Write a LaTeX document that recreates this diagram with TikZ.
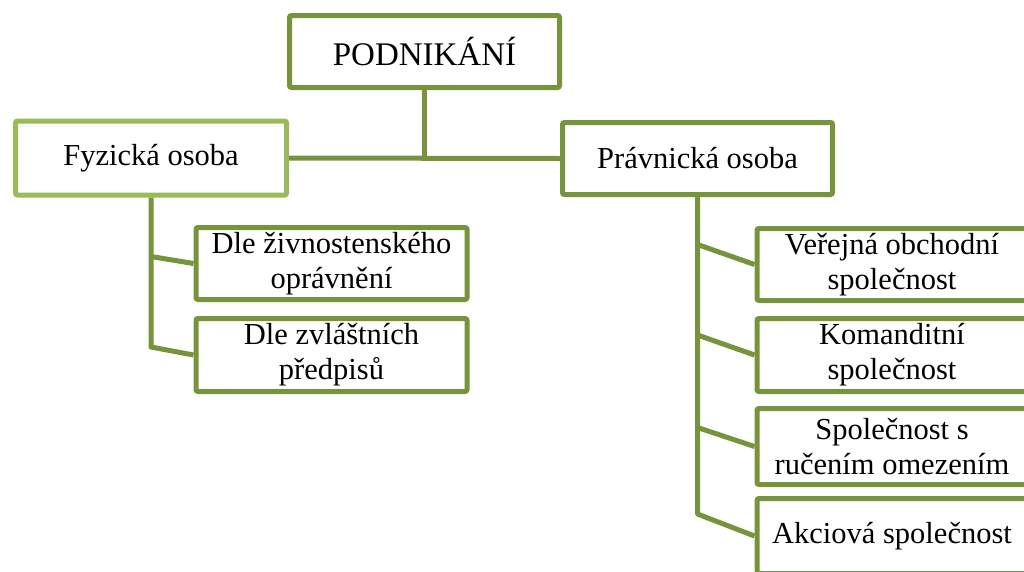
\documentclass[tikz,border=0pt]{standalone}
\usepackage{fontspec}
\setmainfont{Liberation Serif}
\usetikzlibrary{calc}
\definecolor{dg}{HTML}{77933C}
\definecolor{lg}{HTML}{9BBB59}
\begin{document}
\begin{tikzpicture}[x=1pt,y=-1pt,
  box/.style={draw=dg, line width=5pt, fill=white, rounded corners=2pt,
    minimum width=270pt, minimum height=72pt, inner sep=0pt, align=center,
    text=black, font=\fontsize{30.5}{35}\selectfont},
  conn/.style={draw=dg, line width=5pt, line join=round}]
\path[use as bounding box, clip] (0,0) rectangle (1024,571);
\fill[white] (0,0) rectangle (1024,571);
% nodes
\node[box, font=\fontsize{33}{36}\selectfont] (top) at (424.5,51.5) {PODNIK\'AN\'I};
\node[box, draw=lg, minimum width=271pt, minimum height=74pt] (fyz) at (151,158) {Fyzická osoba};
\node[box] (prav) at (697.5,158.5) {Právnická osoba};
\node[box, minimum width=271pt] (d1) at (331.5,263.5) {Dle živnostenského\\oprávnění};
\node[box, minimum width=271pt, minimum height=73pt] (d2) at (331.5,355) {Dle zvláštních\\předpisů};
\node[box] (r1) at (892,264.5) {Veřejná obchodní\\společnost};
\node[box, minimum height=73pt] (r2) at (892,355) {Komanditní\\společnost};
\node[box, minimum height=76pt] (r3) at (892,446.5) {Společnost s\\ručením omezením};
\node[box, minimum height=75pt] (r4) at (892,536) {Akciová společnost};
% connectors
\draw[conn] (top.south) -- (top.south |- fyz.east);
\draw[conn] (fyz.east) -- (prav.west);
\draw[conn] (fyz.south) -- ($(fyz.south |- d2.west)+(0,-8)$) -- (d2.west);
\draw[conn] ($(fyz.south |- d1.west)+(0,-7)$) -- (d1.west);
\draw[conn] (prav.south) -- ($(prav.south |- r4.west)+(0,-22)$) -- (r4.west);
\draw[conn] ($(prav.south |- r1.west)+(0,-20)$) -- (r1.west);
\draw[conn] ($(prav.south |- r2.west)+(0,-20)$) -- (r2.west);
\draw[conn] ($(prav.south |- r3.west)+(0,-19)$) -- (r3.west);
\end{tikzpicture}
\end{document}
